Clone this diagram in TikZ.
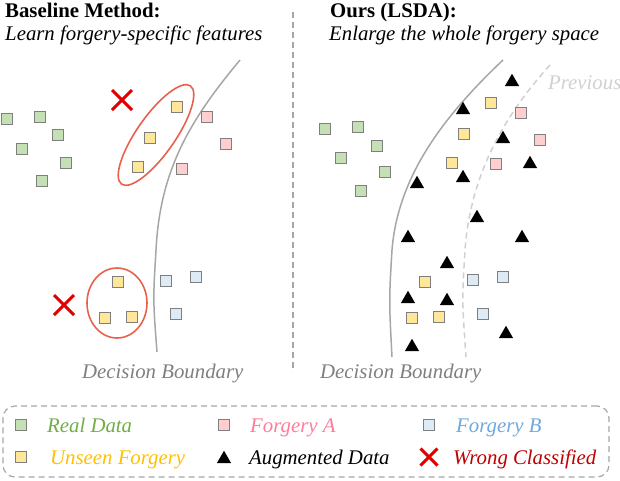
\documentclass[tikz,border=0pt]{standalone}
\usepackage{fontspec}
\setmainfont{Liberation Serif}
\usetikzlibrary{shapes.geometric,shapes.misc}
\definecolor{sqborder}{HTML}{7F7F7F}
\definecolor{cgreen}{HTML}{C5E0B4}
\definecolor{cyellow}{HTML}{FFE699}
\definecolor{cpink}{HTML}{FFCFD0}
\definecolor{cblue}{HTML}{DDEBF7}
\definecolor{tgreen}{HTML}{70AD47}
\definecolor{tpink}{HTML}{FF7C98}
\definecolor{tblue}{HTML}{6FA8DC}
\definecolor{tyellow}{HTML}{FFC000}
\definecolor{tred}{HTML}{C00000}
\definecolor{crossred}{HTML}{E00000}
\definecolor{ellred}{HTML}{E9604D}
\definecolor{bndgray}{HTML}{A6A6A6}
\definecolor{prevgray}{HTML}{D0D0D0}
\definecolor{txtgray}{HTML}{7F7F7F}
\tikzset{
  sq/.style={rectangle, draw=sqborder, line width=1.3pt, inner sep=0pt, minimum size=11pt},
  gsq/.style={sq, fill=cgreen},
  ysq/.style={sq, fill=cyellow},
  psq/.style={sq, fill=cpink},
  bsq/.style={sq, fill=cblue},
  tri/.style={regular polygon, regular polygon sides=3, fill=black, inner sep=0pt, minimum size=16.5pt},
  wrong/.style={cross out, draw=crossred, line width=3pt, inner sep=0pt, minimum size=#1},
  wrong/.default=16pt,
  ttl/.style={font=\fontsize{20.8}{24}\selectfont\bfseries, anchor=base west, inner sep=0pt},
  sub/.style={font=\fontsize{20.8}{24}\selectfont\itshape, anchor=base west, inner sep=0pt},
  lbl/.style={font=\fontsize{20.8}{24}\selectfont\itshape, anchor=base west, inner sep=0pt},
  bnd/.style={draw=bndgray, line width=1.5pt},
  prevbnd/.style={draw=prevgray, line width=1.5pt, dash pattern=on 6pt off 4pt},
  ell/.style={draw=ellred, line width=1.6pt},
}
\begin{document}
\begin{tikzpicture}[x=1pt,y=-1pt]
\useasboundingbox (0,0) rectangle (620,480);
% titles
\node[ttl] (t1) at (5,17) {Baseline Method:};
\node[sub] (s1) at (5,40) {Learn forgery-specific features};
\node[ttl] (t2) at (330,17) {Ours (LSDA):};
\node[sub] (s2) at (329,40) {Enlarge the whole forgery space};
% separator
\coordinate (sepA) at (293,12);
\coordinate (sepB) at (293,372);
\draw[draw=bndgray, line width=1.2pt, dash pattern=on 6pt off 4pt] (sepA) -- (sepB);
% ---------- left panel ----------
\draw[bnd] (240,60) .. controls (190,120) and (160,170) .. (156,250) .. controls (153,300) .. (157,352);
\node[gsq] (lg1) at (7,119) {};
\node[gsq] (lg2) at (40,117) {};
\node[gsq] (lg3) at (58,135) {};
\node[gsq] (lg4) at (22,149) {};
\node[gsq] (lg5) at (66,163) {};
\node[gsq] (lg6) at (42,181) {};
\node[ysq] (ly1) at (177,107) {};
\node[ysq] (ly2) at (150,138) {};
\node[ysq] (ly3) at (138,167) {};
\node[psq] (lp1) at (207,117) {};
\node[psq] (lp2) at (226,144) {};
\node[psq] (lp3) at (182,169) {};
\node[ysq] (ly4) at (118,282) {};
\node[ysq] (ly5) at (105,318) {};
\node[ysq] (ly6) at (132,317) {};
\node[bsq] (lb1) at (166,281) {};
\node[bsq] (lb2) at (196,277) {};
\node[bsq] (lb3) at (176,314) {};
\node[ellipse, ell, minimum width=120pt, minimum height=38pt, rotate=55] (e1) at (156,135) {};
\node[ellipse, ell, minimum width=60pt, minimum height=70pt] (e2) at (117,303) {};
\node[wrong=17pt] (x1) at (122,100) {};
\node[wrong=17pt] (x2) at (64,305) {};
\node[lbl, text=txtgray] (db1) at (82,378) {Decision Boundary};
% ---------- right panel ----------
\draw[bnd] (503,60) .. controls (445,115) and (398,175) .. (392,250) .. controls (389,300) .. (392,357);
\draw[prevbnd] (550,65) .. controls (500,120) and (470,180) .. (465,250) .. controls (462,300) .. (466,357);
\node[lbl, text=prevgray] (prev) at (548,89) {Previous};
\node[gsq] (rg1) at (325,129) {};
\node[gsq] (rg2) at (358,127) {};
\node[gsq] (rg3) at (377,146) {};
\node[gsq] (rg4) at (341,158) {};
\node[gsq] (rg5) at (385,172) {};
\node[gsq] (rg6) at (361,191) {};
\node[ysq] (ry1) at (491,103) {};
\node[ysq] (ry2) at (464,134) {};
\node[ysq] (ry3) at (452,163) {};
\node[psq] (rp1) at (521,113) {};
\node[psq] (rp2) at (540,140) {};
\node[psq] (rp3) at (496,164) {};
\node[ysq] (ry4) at (425,282) {};
\node[ysq] (ry5) at (412,318) {};
\node[ysq] (ry6) at (439,317) {};
\node[bsq] (rb1) at (473,280) {};
\node[bsq] (rb2) at (503,277) {};
\node[bsq] (rb3) at (483,314) {};
\node[tri] (a1) at (512,82) {};
\node[tri] (a2) at (463,110) {};
\node[tri] (a3) at (503,139) {};
\node[tri] (a4) at (530,164) {};
\node[tri] (a5) at (463,178) {};
\node[tri] (a6) at (417,184) {};
\node[tri] (a7) at (477,218) {};
\node[tri] (a8) at (408,238) {};
\node[tri] (a9) at (522,238) {};
\node[tri] (a10) at (447,264) {};
\node[tri] (a11) at (408,299) {};
\node[tri] (a12) at (447,301) {};
\node[tri] (a13) at (506,334) {};
\node[tri] (a14) at (412,347) {};
\node[lbl, text=txtgray] (db2) at (320,378) {Decision Boundary};
% ---------- legend ----------
\node[draw=bndgray, line width=1.2pt, dash pattern=on 6pt off 4pt, rounded corners=12pt,
      minimum width=606pt, minimum height=71pt, inner sep=0pt] (leg) at (306,441.5) {};
\node[gsq] (kg) at (21,425) {};
\node[lbl, text=tgreen] (kgt) at (47,432) {Real Data};
\node[psq] (kp) at (224,425) {};
\node[lbl, text=tpink] (kpt) at (250,432) {Forgery A};
\node[bsq] (kb) at (429,425) {};
\node[lbl, text=tblue] (kbt) at (456,432) {Forgery B};
\node[ysq] (ky) at (21,457) {};
\node[lbl, text=tyellow] (kyt) at (50,464) {Unseen Forgery};
\node[tri] (ka) at (224,459) {};
\node[lbl, text=black] (kat) at (249,464) {Augmented Data};
\node[wrong=14pt] (kx) at (429,457) {};
\node[lbl, text=tred] (kxt) at (453,464) {Wrong Classified};
\end{tikzpicture}
\end{document}
